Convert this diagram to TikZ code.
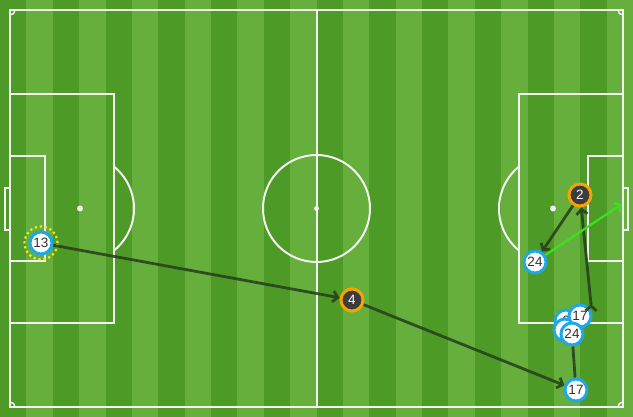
\documentclass[tikz,border=0pt]{standalone}
\usepackage{fontspec}
\setmainfont{Liberation Sans}
\usetikzlibrary{arrows.meta}
\definecolor{grassclr}{RGB}{102,175,60}
\definecolor{stripeclr}{RGB}{78,154,38}
\definecolor{lineclr}{RGB}{242,242,242}
\definecolor{ringclr}{RGB}{30,168,232}
\definecolor{keyclr}{RGB}{245,163,0}
\definecolor{darkclr}{RGB}{60,60,62}
\definecolor{txtclr}{RGB}{50,50,50}
\definecolor{passclr}{RGB}{38,62,28}
\definecolor{shotclr}{RGB}{60,225,30}
\definecolor{dotclr}{RGB}{240,230,40}
\tikzset{ %
  ,>={Straight Barb[length=5pt,width=11pt]}
  ,every node/.style={font=\fontsize{13.5}{14}\selectfont}
  ,plr/.style={draw=ringclr, circle, line width=3pt, inner sep=0, minimum size=22pt, fill=white, text=txtclr}
  ,key/.style={draw=keyclr, circle, line width=3pt, inner sep=0, minimum size=22pt, fill=darkclr, text=white}
  ,mark13/.style={draw=dotclr, circle, line width=2.2pt, dash pattern=on 2.2pt off 2.8pt, minimum size=33pt, inner sep=0}
  ,pitch/.style={draw=lineclr, line width=2pt}
  ,pass/.style={draw=passclr, line width=2.8pt, opacity=0.85}
  ,shot/.style={draw=shotclr, line width=2.2pt}
}
\begin{document}
\begin{tikzpicture}[x=1pt, y=-1pt]
  % grass
  \fill[grassclr] (0,0) rectangle (633,417);
  \foreach \i in {0,2,...,22}
    \fill[stripeclr] ({\i*26.375},0) rectangle ({(\i+1)*26.375},417);
  \useasboundingbox (0,0) rectangle (633,417);
  % pitch lines
  \draw[pitch] (10,10) rectangle (623,407);
  \draw[pitch] (316.5,10) -- (316.5,407);
  \draw[pitch] (316.5,208.5) circle[radius=53.5];
  \fill[lineclr] (316.5,208.5) circle[radius=2.5];
  \draw[pitch] (10,94) rectangle (114,323);
  \draw[pitch] (10,156) rectangle (45,261);
  \draw[pitch] (10,188) rectangle (5,230);
  \fill[lineclr] (80,208.5) circle[radius=3];
  \draw[pitch] (114,250.5) arc[start angle=51, end angle=-51, radius=54];
  \draw[pitch] (623,94) rectangle (519,323);
  \draw[pitch] (623,156) rectangle (588,261);
  \draw[pitch] (623,188) rectangle (628,230);
  \fill[lineclr] (553,208.5) circle[radius=3];
  \draw[pitch] (519,250.5) arc[start angle=129, end angle=231, radius=54];
  \draw[pitch, line width=1.5pt] (10,15) arc[start angle=90, end angle=0, radius=5];
  \draw[pitch, line width=1.5pt] (618,10) arc[start angle=180, end angle=90, radius=5];
  \draw[pitch, line width=1.5pt] (15,407) arc[start angle=0, end angle=-90, radius=5];
  \draw[pitch, line width=1.5pt] (623,402) arc[start angle=270, end angle=180, radius=5];
  % players
  \draw
  node[mark13] (m13) at (41,243) {}
  node[plr] (p13) at (41,243) {13}
  node[key] (p4) at (352,300) {4}
  node[key] (p2) at (580,195) {2}
  node[plr] (p24a) at (535,262) {24}
  node[plr] (p17b) at (576,390) {17}
  node[plr] (pa) at (566,321) {6}
  node[plr] (pb) at (565,330) {}
  node[plr] (p17a) at (580,316) {17}
  node[plr] (p24b) at (572,334) {24};
  \coordinate (run) at (591,304);
  \coordinate (goal) at (622,204);
  % passes
  \draw[pass,->] (p13) edge (p4) (p4) edge (p17b) (p2) edge (p24a) (run) edge (p2);
  \draw[pass] (p24b) -- (p17b);
  \fill[passclr] (run) circle[radius=1.5];
  \draw[shot,->] (p24a) -- (goal);
\end{tikzpicture}
\end{document}
